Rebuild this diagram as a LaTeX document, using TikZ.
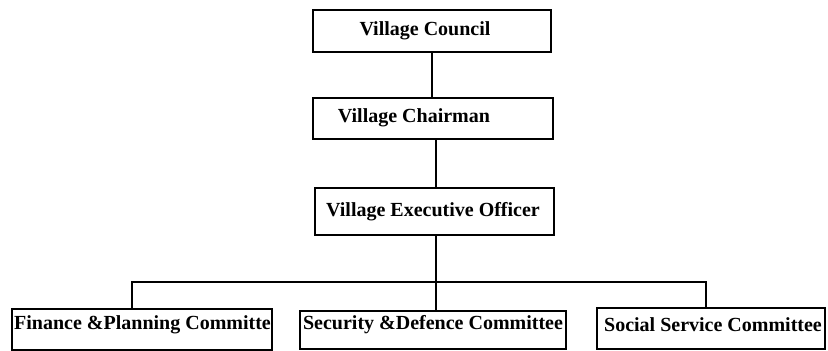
\documentclass[tikz,border=0pt]{standalone}
\usepackage{fontspec}
\setmainfont{Liberation Serif}
\begin{document}
\begin{tikzpicture}[x=1pt,y=-1pt,
  box/.style={draw=black, line width=1.6pt, rectangle, inner sep=0pt},
  lbl/.style={inner sep=0pt, font=\fontsize{20}{22}\selectfont\bfseries, text=black},
  stem/.style={line width=2.6pt},
  bus/.style={line width=1.6pt}]
  \useasboundingbox (0,0) rectangle (828,351);
  \fill[white] (0,0) rectangle (828,351);
  \clip (0,0) rectangle (828,351);

  % upper chain of offices
  \node[box, minimum width=238pt, minimum height=42pt] (council) at (432,31) {};
  \node[box, minimum width=240pt, minimum height=41pt] (chair) at (433,118.5) {};
  \node[box, minimum width=239pt, minimum height=47pt] (exec) at (434.5,211.5) {};

  % committees (boxes run past the lower edge)
  \node[box, minimum width=260pt, minimum height=41pt] (fin) at (142,329.5) {};
  \node[box, minimum width=266pt, minimum height=38pt] (sec) at (433,330) {};
  \node[box, minimum width=228pt, minimum height=41pt] (soc) at (711,328.5) {};

  \node[lbl] (tcouncil) at (425,31) {Village Council};
  \node[lbl] (tchair) at (414,118) {Village Chairman};
  \node[lbl] (texec) at (433,212) {Village Executive Officer};
  \node[lbl] (tsec) at (433,325) {Security \&Defence Committee};
  \node[lbl] (tsoc) at (713,325) {Social Service Committee};
  \begin{scope}
    \clip (fin.south west) rectangle (fin.north east);
    \node[lbl, anchor=west] (tfin) at (14,325) {Finance \&Planning Committee};
  \end{scope}

  % connectors
  \coordinate (busL) at (132,282);
  \coordinate (busR) at (706,282);
  \coordinate (drop) at (436,0);
  \draw[stem] (council.south) -- (council.south |- chair.north);
  \draw[stem] (drop |- chair.south) -- (drop |- exec.north);
  \draw[stem] (drop |- exec.south) -- (drop |- sec.north);
  \draw[bus] (busL |- fin.north) -- (busL) -- (busR) -- (busR |- soc.north);
\end{tikzpicture}
\end{document}
